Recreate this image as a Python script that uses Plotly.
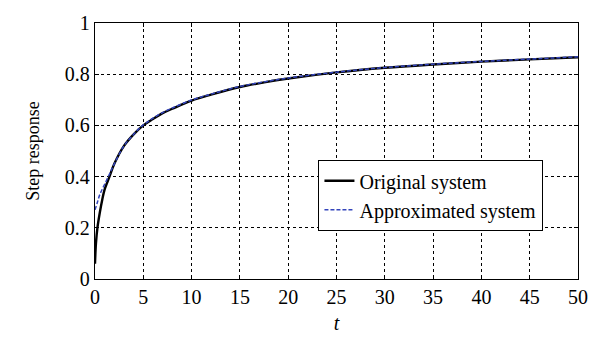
import plotly.graph_objects as go

t_orig = [0, 0.1, 0.25, 0.5, 0.75, 1, 1.5, 2, 3, 4, 5, 6, 7, 8, 10, 12, 15, 17.5, 20, 25, 30, 35, 40, 45, 50]
y_orig = [0.06, 0.14, 0.2, 0.26, 0.31, 0.35, 0.40, 0.45, 0.52, 0.565, 0.60, 0.625, 0.648, 0.665, 0.697,
          0.72, 0.75, 0.768, 0.783, 0.807, 0.825, 0.838, 0.849, 0.858, 0.866]
t_appr = [0, 0.25, 0.5, 1, 1.5, 2, 3, 4, 5, 6, 7, 8, 10, 12, 15, 17.5, 20, 25, 30, 35, 40, 45, 50]
y_appr = [0.27, 0.30, 0.33, 0.37, 0.41, 0.45, 0.52, 0.565, 0.602, 0.628, 0.65, 0.668, 0.699,
          0.722, 0.752, 0.77, 0.785, 0.808, 0.826, 0.839, 0.85, 0.859, 0.868]

x_ticks = [0, 5, 10, 15, 20, 25, 30, 35, 40, 45, 50]
y_ticks = [0, 0.2, 0.4, 0.6, 0.8, 1]
y_tick_labels = ["0", "0.2", "0.4", "0.6", "0.8", "1"]

SERIF = "Liberation Serif, Times New Roman, serif"

fig = go.Figure()
fig.add_trace(go.Scatter(x=t_orig, y=y_orig, mode="lines", name="Original system",
                         line=dict(color="black", width=2.4, shape="spline")))
fig.add_trace(go.Scatter(x=t_appr, y=y_appr, mode="lines", name="Approximated system",
                         line=dict(color="#3344bb", width=1.5, dash="4px,2px", shape="spline")))

tickfont = dict(family=SERIF, size=20, color="black")
axis_common = dict(showline=True, linecolor="black", linewidth=1.3, mirror="ticks",
                   ticks="inside", ticklen=4, tickcolor="black",
                   showgrid=True, gridcolor="black", griddash="dot", gridwidth=1.2,
                   zeroline=False, tickfont=tickfont)

fig.update_layout(
    width=609, height=342,
    margin=dict(l=95, r=31, t=13, b=59),
    paper_bgcolor="white", plot_bgcolor="white",
    font=dict(family=SERIF, color="black"),
    xaxis=dict(range=[0, 50], tickvals=x_ticks,
               title=dict(text="<i>t</i>", font=dict(family=SERIF, size=20, color="black"), standoff=8),
               **axis_common),
    yaxis=dict(range=[0, 1], tickvals=y_ticks, ticktext=y_tick_labels,
               title=dict(text="Step response", font=dict(family=SERIF, size=18, color="black"), standoff=20),
               **axis_common),
    legend=dict(x=0.462, y=0.465, xanchor="left", yanchor="top",
                bgcolor="white", bordercolor="black", borderwidth=1.3,
                font=dict(family=SERIF, size=20, color="black"),
                tracegroupgap=0, itemwidth=30),
    showlegend=True,
)

fig.write_html("out.html")
